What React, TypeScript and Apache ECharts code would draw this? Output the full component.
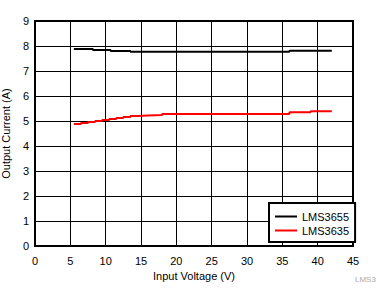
import React, { useEffect, useRef } from "react";
import * as echarts from "echarts";

const xTicks = [0, 5, 10, 15, 20, 25, 30, 35, 40, 45];
const yTicks = [0, 1, 2, 3, 4, 5, 6, 7, 8, 9];

const seriesNames = ["LMS3655", "LMS3635"];
const seriesColors = ["#000000", "#ff0000"];

const lms3655X = [5.5, 8.2, 10.7, 13.5, 36, 42];
const lms3655Y = [7.88, 7.84, 7.8, 7.77, 7.81, 7.81];

const lms3635X = [5.5, 6.5, 7.5, 8.5, 9.5, 10.5, 11.5, 12.5, 13.5, 14.5, 16, 18, 36, 39, 42];
const lms3635Y = [4.88, 4.92, 4.96, 5.0, 5.04, 5.08, 5.12, 5.16, 5.2, 5.22, 5.24, 5.28, 5.35, 5.39, 5.39];

const xName = "Input Voltage (V)";
const yName = "Output Current (A)";
const watermark = "LMS3";

const FONT = "'Liberation Sans', Arial, sans-serif";

export default function App() {
  const ref = useRef<HTMLDivElement>(null);
  useEffect(() => {
    if (!ref.current) return;
    const chart = echarts.init(ref.current, undefined, { renderer: "svg" });
    const pairs = (xs: number[], ys: number[]) => xs.map((x, i) => [x, ys[i]]);
    chart.setOption({
      animation: false,
      backgroundColor: "#ffffff",
      textStyle: { fontFamily: FONT },
      grid: {
        left: 35,
        right: 38,
        top: 21,
        bottom: 59,
        containLabel: false,
        outerBoundsMode: "none",
        show: true,
        borderColor: "#000",
        borderWidth: 2,
        backgroundColor: "transparent",
        z: 3,
      },
      xAxis: {
        type: "value",
        min: xTicks[0],
        max: xTicks[xTicks.length - 1],
        interval: 5,
        name: xName,
        nameLocation: "middle",
        nameGap: 24,
        nameTextStyle: { fontSize: 11, color: "#000", fontFamily: FONT },
        axisLine: { show: false },
        axisTick: { show: false },
        axisLabel: { fontSize: 11, color: "#000", margin: 9, fontFamily: FONT },
        splitLine: { show: true, lineStyle: { color: "#000", width: 1 } },
      },
      yAxis: {
        type: "value",
        min: yTicks[0],
        max: yTicks[yTicks.length - 1],
        interval: 1,
        name: yName,
        nameLocation: "middle",
        nameGap: 22,
        nameTextStyle: { fontSize: 11, color: "#000", fontFamily: FONT },
        axisLine: { show: false },
        axisTick: { show: false },
        axisLabel: { fontSize: 11, color: "#000", margin: 6, fontFamily: FONT },
        splitLine: { show: true, lineStyle: { color: "#000", width: 1 } },
      },
      legend: {
        show: true,
        orient: "vertical",
        left: 269,
        top: 203,
        width: 84,
        padding: [7, 6, 5, 6],
        itemGap: 1,
        itemWidth: 22,
        itemHeight: 2,
        icon: "rect",
        borderColor: "#000",
        borderWidth: 2,
        backgroundColor: "#fff",
        textStyle: { fontSize: 11, color: "#000", fontFamily: FONT, lineHeight: 13 },
        data: seriesNames,
        z: 10,
      },
      graphic: [
        {
          type: "text",
          left: 355,
          top: 275,
          style: { text: watermark, fontSize: 8, fill: "#aaaaaa", fontFamily: FONT },
        },
      ],
      series: [
        {
          name: seriesNames[0],
          type: "line",
          step: "end",
          showSymbol: false,
          data: pairs(lms3655X, lms3655Y),
          lineStyle: { color: seriesColors[0], width: 2 },
          itemStyle: { color: seriesColors[0] },
          z: 4,
        },
        {
          name: seriesNames[1],
          type: "line",
          step: "end",
          showSymbol: false,
          data: pairs(lms3635X, lms3635Y),
          lineStyle: { color: seriesColors[1], width: 2 },
          itemStyle: { color: seriesColors[1] },
          z: 4,
        },
      ],
    });
    return () => chart.dispose();
  }, []);
  return (
    <div
      ref={ref}
      style={{ position: "fixed", left: 0, top: 0, width: 391, height: 305 }}
    />
  );
}
